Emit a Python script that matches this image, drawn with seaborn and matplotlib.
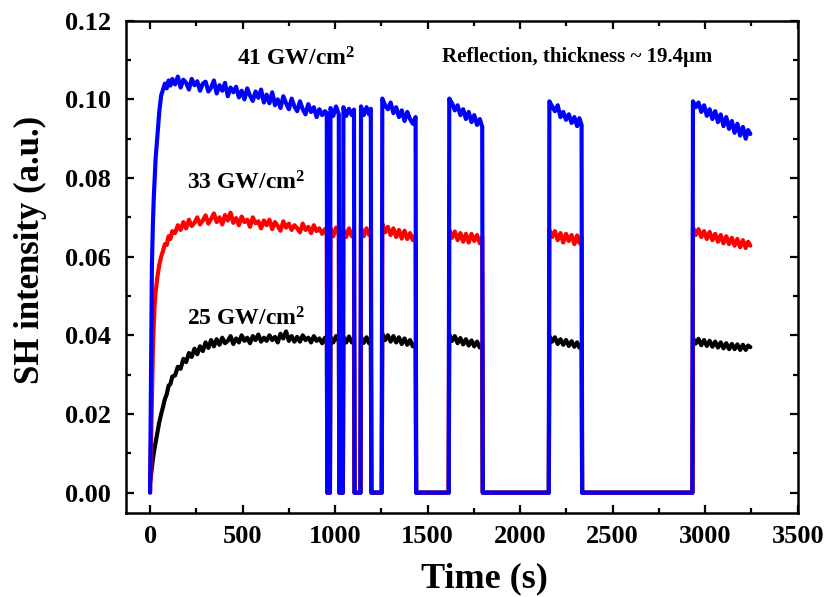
import numpy as np
import pandas as pd
import matplotlib
matplotlib.use("Agg")
import matplotlib.pyplot as plt
from matplotlib.ticker import MultipleLocator, FormatStrFormatter
import seaborn as sns

# ---------------- data ----------------
time_s = [
    0, 5, 10, 15, 20, 25, 30,
    40, 50, 60, 70, 80, 90, 100, 110, 120,
    135, 150, 165, 180, 195, 210, 225, 240, 255, 270, 285,
    300, 315, 330, 345, 360, 375, 390, 405, 420, 435, 450,
    465, 480, 495, 510, 525, 540, 555, 570, 585, 600, 615,
    630, 645, 660, 675, 690, 705, 720, 735, 750, 765, 780,
    795, 810, 825, 840, 855, 870, 885, 900, 915, 930, 945,
    955, 958, 972,
    975, 990, 1005, 1020, 1023, 1042,
    1045, 1060, 1075, 1090, 1102, 1105, 1137,
    1140, 1155, 1170, 1183, 1193, 1196, 1252,
    1255, 1270, 1285, 1300, 1315, 1330, 1345, 1360, 1375, 1390, 1405, 1420, 1435, 1438, 1614,
    1617, 1632, 1647, 1662, 1677, 1692, 1707, 1722, 1737, 1752, 1767, 1782, 1795, 1798, 2155,
    2158, 2173, 2188, 2203, 2218, 2233, 2248, 2263, 2278, 2293, 2308, 2320, 2332, 2335, 2931,
    2934, 2949, 2964, 2979, 2994, 3009, 3024, 3039, 3054, 3069, 3084,
    3099, 3114, 3129, 3144, 3159, 3174, 3189, 3204, 3219, 3232, 3244,
]

sh_41 = [
    0.000, 0.030, 0.058, 0.068, 0.075, 0.080, 0.085,
    0.091, 0.097, 0.101, 0.1025, 0.1040, 0.1028, 0.1048, 0.1035, 0.1052,
    0.1038, 0.1058, 0.1030, 0.1050, 0.1042, 0.1025, 0.1052, 0.1036, 0.1046, 0.1022, 0.1040,
    0.1045, 0.1020, 0.1030, 0.1048, 0.1015, 0.1036, 0.1022, 0.1042, 0.1008, 0.1030, 0.1018,
    0.1032, 0.1005, 0.1022, 0.1000, 0.1028, 0.1010, 0.0996, 0.1020, 0.1004, 0.1025, 0.0992,
    0.1012, 0.0990, 0.1018, 0.0985, 0.1000, 0.0978, 0.1008, 0.0990, 0.0975, 0.1002, 0.0982,
    0.0970, 0.0995, 0.0975, 0.0962, 0.0988, 0.0968, 0.0980, 0.0955, 0.0975, 0.0960, 0.0970,
    0.0965, 0.0, 0.0,
    0.0978, 0.0958, 0.0982, 0.0962, 0.0, 0.0,
    0.0980, 0.0958, 0.0976, 0.0960, 0.0974, 0.0, 0.0,
    0.0982, 0.0960, 0.0980, 0.0962, 0.0976, 0.0, 0.0,
    0.1002, 0.0985, 0.0975, 0.0992, 0.0965, 0.0980, 0.0955, 0.0972, 0.0945, 0.0968, 0.0950, 0.0938, 0.0955, 0.0, 0.0,
    0.1002, 0.0990, 0.0972, 0.0985, 0.0960, 0.0975, 0.0950, 0.0968, 0.0942, 0.0960, 0.0935, 0.0950, 0.0930, 0.0, 0.0,
    0.0995, 0.0982, 0.0970, 0.0985, 0.0955, 0.0968, 0.0948, 0.0962, 0.0940, 0.0955, 0.0932, 0.0952, 0.0935, 0.0, 0.0,
    0.0995, 0.0980, 0.0992, 0.0968, 0.0985, 0.0958, 0.0975, 0.0950, 0.0970, 0.0942, 0.0962,
    0.0932, 0.0955, 0.0925, 0.0945, 0.0915, 0.0938, 0.0908, 0.0930, 0.0900, 0.0922, 0.0912,
]

sh_33 = [
    0.000, 0.012, 0.025, 0.036, 0.043, 0.048, 0.051,
    0.055, 0.058, 0.060, 0.0615, 0.0632, 0.0630, 0.0652, 0.0645, 0.0665,
    0.0660, 0.0680, 0.0668, 0.0688, 0.0672, 0.0694, 0.0678, 0.0686, 0.0700, 0.0682, 0.0692,
    0.0705, 0.0684, 0.0696, 0.0710, 0.0688, 0.0700, 0.0682, 0.0706, 0.0692, 0.0712, 0.0686,
    0.0698, 0.0680, 0.0702, 0.0688, 0.0694, 0.0676, 0.0700, 0.0685, 0.0690, 0.0672, 0.0692,
    0.0680, 0.0694, 0.0670, 0.0688, 0.0678, 0.0666, 0.0690, 0.0674, 0.0684, 0.0668, 0.0680,
    0.0672, 0.0662, 0.0684, 0.0668, 0.0676, 0.0660, 0.0680, 0.0665, 0.0672, 0.0658, 0.0670,
    0.0664, 0.0, 0.0,
    0.0672, 0.0652, 0.0674, 0.0656, 0.0, 0.0,
    0.0668, 0.0650, 0.0672, 0.0652, 0.0666, 0.0, 0.0,
    0.0674, 0.0652, 0.0672, 0.0656, 0.0668, 0.0, 0.0,
    0.0684, 0.0662, 0.0676, 0.0655, 0.0672, 0.0650, 0.0668, 0.0646, 0.0666, 0.0645, 0.0660, 0.0642, 0.0655, 0.0, 0.0,
    0.0668, 0.0648, 0.0664, 0.0642, 0.0660, 0.0638, 0.0658, 0.0636, 0.0658, 0.0640, 0.0655, 0.0634, 0.0650, 0.0, 0.0,
    0.0668, 0.0650, 0.0665, 0.0642, 0.0660, 0.0636, 0.0658, 0.0640, 0.0655, 0.0632, 0.0654, 0.0635, 0.0648, 0.0, 0.0,
    0.0674, 0.0655, 0.0670, 0.0650, 0.0665, 0.0645, 0.0663, 0.0642, 0.0658, 0.0638, 0.0655,
    0.0634, 0.0652, 0.0632, 0.0648, 0.0628, 0.0645, 0.0624, 0.0642, 0.0622, 0.0638, 0.0628,
]

sh_25 = [
    0.0025, 0.0045, 0.0065, 0.0085, 0.0100, 0.0115, 0.0128,
    0.0155, 0.0180, 0.0200, 0.0218, 0.0238, 0.0250, 0.0272, 0.0276, 0.0295,
    0.0298, 0.0320, 0.0315, 0.0340, 0.0332, 0.0355, 0.0345, 0.0366, 0.0352, 0.0372, 0.0360,
    0.0382, 0.0368, 0.0388, 0.0372, 0.0390, 0.0376, 0.0394, 0.0380, 0.0386, 0.0398, 0.0378,
    0.0392, 0.0382, 0.0400, 0.0386, 0.0394, 0.0380, 0.0398, 0.0388, 0.0402, 0.0384, 0.0394,
    0.0386, 0.0400, 0.0388, 0.0396, 0.0382, 0.0404, 0.0392, 0.0410, 0.0386, 0.0398, 0.0384,
    0.0396, 0.0384, 0.0400, 0.0388, 0.0394, 0.0382, 0.0398, 0.0386, 0.0392, 0.0380, 0.0394,
    0.0390, 0.0, 0.0,
    0.0396, 0.0382, 0.0398, 0.0384, 0.0, 0.0,
    0.0396, 0.0382, 0.0397, 0.0382, 0.0392, 0.0, 0.0,
    0.0396, 0.0381, 0.0395, 0.0380, 0.0392, 0.0, 0.0,
    0.0404, 0.0388, 0.0400, 0.0384, 0.0398, 0.0382, 0.0395, 0.0378, 0.0392, 0.0376, 0.0388, 0.0372, 0.0380, 0.0, 0.0,
    0.0402, 0.0386, 0.0398, 0.0380, 0.0393, 0.0377, 0.0390, 0.0374, 0.0387, 0.0372, 0.0384, 0.0369, 0.0378, 0.0, 0.0,
    0.0398, 0.0384, 0.0395, 0.0378, 0.0390, 0.0376, 0.0388, 0.0373, 0.0385, 0.0371, 0.0382, 0.0369, 0.0376, 0.0, 0.0,
    0.0393, 0.0379, 0.0391, 0.0375, 0.0388, 0.0373, 0.0386, 0.0371, 0.0384, 0.0369, 0.0382,
    0.0367, 0.0380, 0.0365, 0.0378, 0.0365, 0.0377, 0.0363, 0.0376, 0.0363, 0.0374, 0.0370,
]

series_names = ["25 GW/cm2", "33 GW/cm2", "41 GW/cm2"]
series_colors = ["#000000", "#FF0000", "#0000FF"]

assert len(time_s) == len(sh_41) == len(sh_33) == len(sh_25)

# ---------------- build long table ----------------
frames = []
for name, vals in zip(series_names, [sh_25, sh_33, sh_41]):
    frames.append(pd.DataFrame({"time": time_s, "sh": vals, "series": name}))
df = pd.concat(frames, ignore_index=True)

# ---------------- style ----------------
sns.set_style("ticks")
plt.rcParams["font.family"] = ["Liberation Serif", "DejaVu Serif"]
plt.rcParams["font.weight"] = "bold"
plt.rcParams["text.color"] = "black"
plt.rcParams["axes.labelcolor"] = "black"
plt.rcParams["xtick.color"] = "black"
plt.rcParams["ytick.color"] = "black"
plt.rcParams["mathtext.fontset"] = "custom"
plt.rcParams["mathtext.rm"] = "Liberation Serif:bold"
plt.rcParams["mathtext.bf"] = "Liberation Serif:bold"
plt.rcParams["mathtext.it"] = "Liberation Serif:bold"

fig = plt.figure(figsize=(8.28, 5.97), dpi=100)
ax = fig.add_axes([0.1522, 0.1412, 0.8112, 0.8241])

sns.lineplot(data=df, x="time", y="sh", hue="series", hue_order=series_names,
             palette=series_colors, estimator=None, sort=False, legend=False,
             linewidth=3.0, ax=ax)

ax.set_xlim(-130, 3500)
ax.set_ylim(-0.0051, 0.12)
ax.xaxis.set_major_locator(MultipleLocator(500))
ax.xaxis.set_minor_locator(MultipleLocator(250))
ax.yaxis.set_major_locator(MultipleLocator(0.02))
ax.yaxis.set_minor_locator(MultipleLocator(0.01))
ax.yaxis.set_major_formatter(FormatStrFormatter("%.2f"))

ax.tick_params(which="both", direction="in", top=True, right=True,
               width=1.6, colors="black")
ax.tick_params(which="major", length=6, labelsize=19)
ax.tick_params(axis="x", which="major", pad=9)
ax.tick_params(axis="y", which="major", pad=11)
ax.tick_params(which="minor", length=3.5)
for lab in ax.get_xticklabels() + ax.get_yticklabels():
    lab.set_fontweight("bold")
    lab.set_color("black")
for sp in ax.spines.values():
    sp.set_linewidth(1.8)
    sp.set_color("black")

ax.set_xlabel("Time (s)", fontsize=26, fontweight="bold", color="black")
ax.set_ylabel("SH intensity (a.u.)", fontsize=25, fontweight="bold", color="black")
ax.xaxis.set_label_coords(0.533, -0.100)
ax.yaxis.set_label_coords(-0.118, 0.534)

ax.text(470, 0.1085, r"41 GW/cm$^{\mathbf{2}}$", fontsize=17, fontweight="bold", color="black")
ax.text(200, 0.0770, r"33 GW/cm$^{\mathbf{2}}$", fontsize=17, fontweight="bold", color="black")
ax.text(200, 0.0426, r"25 GW/cm$^{\mathbf{2}}$", fontsize=17, fontweight="bold", color="black")
ax.text(1578, 0.1095, "Reflection, thickness ~ 19.4μm", fontsize=15, fontweight="bold", color="black")

fig.savefig("out.png", dpi=100)
